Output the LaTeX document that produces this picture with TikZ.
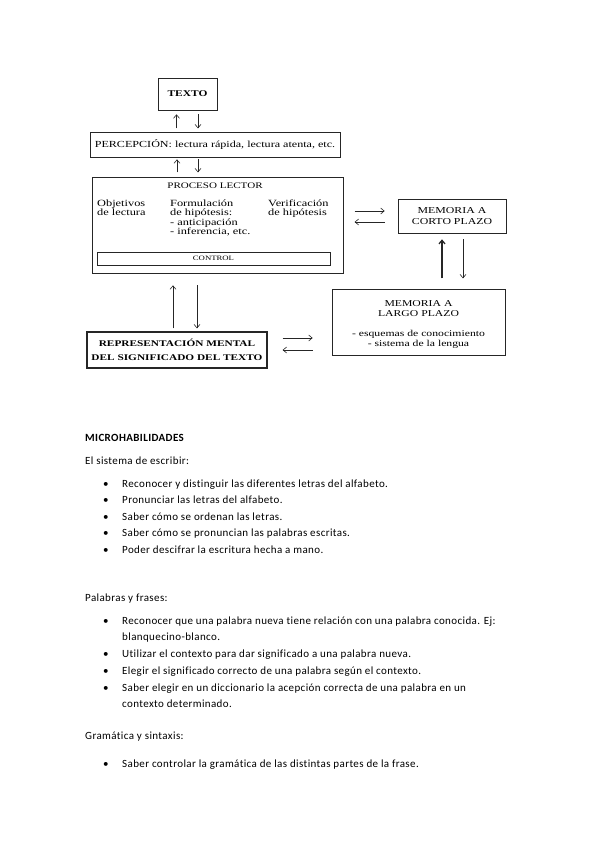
\documentclass[tikz,border=0pt]{standalone}
\usepackage{fontspec}
\setmainfont{Carlito}[LetterSpace=3.5,Ligatures={NoCommon}]
\newfontfamily\diagfont[FakeStretch=1.3]{Liberation Serif}
\usetikzlibrary{arrows.meta,calc}
\begin{document}
\begin{tikzpicture}[x=1pt,y=-1pt,
  box/.style={draw=black!85,line width=0.7pt,inner sep=0pt,font=\diagfont\fontsize{9}{9.8}\selectfont,align=center},
  arr/.style={draw=black!85,line width=0.6pt,-{Straight Barb[length=3.5pt,width=6pt]}},
  txt/.style={anchor=base west,inner sep=0pt,font=\fontsize{11}{13}\selectfont},
  bul/.style={anchor=base west,inner sep=0pt,font=\fontsize{11}{13}\selectfont},
  lbl/.style={inner sep=0pt,font=\diagfont\fontsize{9.5}{9.4}\selectfont,align=left,anchor=north west}]
\useasboundingbox[fill=white] (0,0) rectangle (599,848);
% boxes
\node[box,minimum width=59pt,minimum height=32pt,font=\diagfont\bfseries\fontsize{8.8}{10}\selectfont] (texto) at (187.5,94) {TEXTO};
\node[box,minimum width=250pt,minimum height=25pt,font=\diagfont\fontsize{9.3}{10}\selectfont] (perc) at (215,144.5) {PERCEPCIÓN: lectura rápida, lectura atenta, etc.};
\node[box,minimum width=251pt,minimum height=96pt] (proc) at (217.5,225) {};
\node[inner sep=0pt,font=\diagfont\fontsize{8.5}{9}\selectfont] (proct) at (215,186) {PROCESO LECTOR};
\node[lbl] (obj) at (97,199.5) {Objetivos\\de lectura};
\node[lbl] (form) at (170,199.5) {Formulación\\de hipótesis:\\- anticipación\\- inferencia, etc.};
\node[lbl] (verif) at (268,199.5) {Verificación\\de hipótesis};
\node[box,minimum width=233pt,minimum height=13pt,line width=0.6pt,font=\diagfont\fontsize{6.7}{8}\selectfont] (ctrl) at (213.5,258.5) {CONTROL};
\node[box,minimum width=108pt,minimum height=34pt,font=\diagfont\fontsize{9.1}{11}\selectfont] (corto) at (452,216) {MEMORIA A\\CORTO PLAZO};
\node[box,minimum width=173pt,minimum height=66pt] (largo) at (418.5,322) {};
\node[inner sep=0pt,align=center,font=\diagfont\fontsize{9}{9.8}\selectfont] (largot) at (418.5,324.5) {MEMORIA A\\LARGO PLAZO\\[10pt]- esquemas de conocimiento\\- sistema de la lengua};
\node[box,minimum width=180pt,minimum height=36pt,line width=1.1pt,font=\diagfont\bfseries\fontsize{8.7}{14.5}\selectfont] (rep) at (177,350) {REPRESENTACIÓN MENTAL\\DEL SIGNIFICADO DEL TEXTO};
% arrows
\draw[arr] ($(texto.south)+(-11,18)$) -- ($(texto.south)+(-11,4)$);
\draw[arr] ($(texto.south)+(10.5,4)$) -- ($(texto.south)+(10.5,18)$);
\draw[arr] ($(perc.south)+(-38,15)$) -- ($(perc.south)+(-38,2)$);
\draw[arr] ($(perc.south)+(-17,2)$) -- ($(perc.south)+(-17,15)$);
\draw[arr] ($(corto.west)+(-43,-5)$) -- ($(corto.west)+(-13,-5)$);
\draw[arr] ($(corto.west)+(-13,6)$) -- ($(corto.west)+(-43,6)$);
\draw[arr,line width=1.3pt] ($(corto.south)+(-10,45)$) -- ($(corto.south)+(-10,6)$);
\draw[arr] ($(corto.south)+(11,6)$) -- ($(corto.south)+(11,45)$);
\draw[arr] ($(proc.south)+(-44.5,55)$) -- ($(proc.south)+(-44.5,12)$);
\draw[arr] ($(proc.south)+(-20.5,12)$) -- ($(proc.south)+(-20.5,55)$);
\draw[arr] ($(largo.west)+(-49,16)$) -- ($(largo.west)+(-19,16)$);
\draw[arr] ($(largo.west)+(-19,28)$) -- ($(largo.west)+(-49,28)$);
% text section
\node[txt,font=\bfseries\fontsize{11}{13}\selectfont] (h) at (85,441) {MICROHABILIDADES};
\node[txt] (s1) at (85,464) {El sistema de escribir:};
\foreach \y/\t [count=\i] in {487/{Reconocer y distinguir las diferentes letras del alfabeto.},
  503.5/{Pronunciar las letras del alfabeto.},
  520/{Saber cómo se ordenan las letras.},
  536.5/{Saber cómo se pronuncian las palabras escritas.},
  553/{Poder descifrar la escritura hecha a mano.}}{
  \node[bul] (ba\i) at (103,\y) {•};
  \node[txt] (ta\i) at (122,\y) {\t};
}
\node[txt] (s2) at (85,601) {Palabras y frases:};
\node[bul] (bb1) at (103,624) {•};
\node[txt] (tb1) at (122,624) {Reconocer que una palabra nueva tiene relación con una palabra conocida. Ej:};
\node[txt] (tb1b) at (122,640) {blanquecino-blanco.};
\node[bul] (bb2) at (103,657) {•};
\node[txt] (tb2) at (122,657) {Utilizar el contexto para dar significado a una palabra nueva.};
\node[bul] (bb3) at (103,674) {•};
\node[txt] (tb3) at (122,674) {Elegir el significado correcto de una palabra según el contexto.};
\node[bul] (bb4) at (103,691) {•};
\node[txt] (tb4) at (122,691) {Saber elegir en un diccionario la acepción correcta de una palabra en un};
\node[txt] (tb4b) at (122,707) {contexto determinado.};
\node[txt] (s3) at (85,739) {Gramática y sintaxis:};
\node[bul] (bc1) at (103,767) {•};
\node[txt] (tc1) at (122,767) {Saber controlar la gramática de las distintas partes de la frase.};
\end{tikzpicture}
\end{document}
